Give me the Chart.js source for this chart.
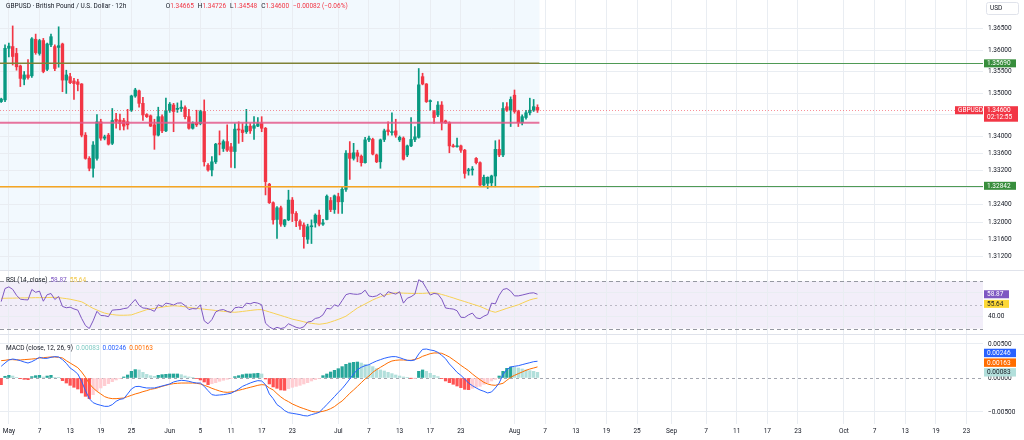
<!DOCTYPE html>
<html lang="en">
<head>
  <meta charset="UTF-8">
  <meta name="viewport" content="width=device-width, initial-scale=1.0">
  <title>GBPUSD 12h</title>
  <script src="https://cdn.jsdelivr.net/npm/chart.js"></script>
  <style>
    html, body { margin: 0; padding: 0; background: #ffffff; }
    #box { position: relative; width: 1024px; height: 440px; }
  </style>
</head>
<body>
  <div id="box"><canvas id="gbpChart"></canvas></div>

  <script>
    // 12h candles, one entry per bar
    const opens = [
      1.3480, 1.3484, 1.3604, 1.3608, 1.3592, 1.3563, 1.3532, 1.3542, 1.3540, 1.3625,
      1.3592, 1.3622, 1.3555, 1.3612, 1.3608, 1.3606, 1.3614, 1.3530, 1.3538, 1.3528,
      1.3526, 1.3521, 1.3402, 1.3348, 1.3325, 1.3348, 1.3433, 1.3395, 1.3402, 1.3383,
      1.3439, 1.3437, 1.3436, 1.3433, 1.3460, 1.3493, 1.3505, 1.3476, 1.3450, 1.3447,
      1.3426, 1.3402, 1.3445, 1.3412, 1.3460, 1.3472, 1.3462, 1.3464, 1.3466, 1.3445,
      1.3418, 1.3431, 1.3429, 1.3457, 1.3332, 1.3321, 1.3340, 1.3383, 1.3371, 1.3387,
      1.3375, 1.3364, 1.3416, 1.3414, 1.3410, 1.3423, 1.3418, 1.3423, 1.3429, 1.3418,
      1.3288, 1.3245, 1.3206, 1.3233, 1.3193, 1.3205, 1.3251, 1.3220, 1.3201, 1.3193,
      1.3160, 1.3189, 1.3198, 1.3216, 1.3195, 1.3206, 1.3250, 1.3229, 1.3259, 1.3247,
      1.3276, 1.3360, 1.3348, 1.3361, 1.3353, 1.3338, 1.3391, 1.3392, 1.3356, 1.3340,
      1.3392, 1.3414, 1.3408, 1.3412, 1.3391, 1.3395, 1.3356, 1.3377, 1.3392, 1.3397,
      1.3538, 1.3521, 1.3480, 1.3457, 1.3449, 1.3472, 1.3435, 1.3431, 1.3377, 1.3375,
      1.3377, 1.3367, 1.3319, 1.3321, 1.3348, 1.3338, 1.3286, 1.3290, 1.3291, 1.3307,
      1.3369, 1.3356, 1.3468, 1.3460, 1.3495, 1.3457, 1.3431, 1.3443, 1.3454, 1.3460, 1.34665
    ];
    const highs = [
      1.3488, 1.3612, 1.3616, 1.3656, 1.3604, 1.3565, 1.3550, 1.3578, 1.3629, 1.3637,
      1.3625, 1.3627, 1.3616, 1.3637, 1.3612, 1.3654, 1.3616, 1.3553, 1.3546, 1.3534,
      1.3532, 1.3522, 1.3408, 1.3352, 1.3387, 1.3450, 1.3439, 1.3402, 1.3406, 1.3464,
      1.3453, 1.3451, 1.3441, 1.3462, 1.3495, 1.3511, 1.3507, 1.3490, 1.3452, 1.3449,
      1.3439, 1.3467, 1.3449, 1.3488, 1.3478, 1.3476, 1.3477, 1.3482, 1.3470, 1.3462,
      1.3433, 1.3460, 1.3460, 1.3484, 1.3336, 1.3352, 1.3383, 1.3412, 1.3391, 1.3426,
      1.3383, 1.3429, 1.3433, 1.3429, 1.3462, 1.3429, 1.3445, 1.3443, 1.3445, 1.3420,
      1.3290, 1.3247, 1.3236, 1.3237, 1.3206, 1.3274, 1.3257, 1.3224, 1.3205, 1.3198,
      1.3195, 1.3205, 1.3219, 1.3228, 1.3206, 1.3263, 1.3257, 1.3263, 1.3267, 1.3282,
      1.3366, 1.3387, 1.3383, 1.3367, 1.3356, 1.3397, 1.3400, 1.3395, 1.3358, 1.3393,
      1.3416, 1.3433, 1.3454, 1.3439, 1.3400, 1.3398, 1.3379, 1.3443, 1.3422, 1.3557,
      1.3546, 1.3522, 1.3484, 1.3460, 1.3480, 1.3480, 1.3437, 1.3433, 1.3381, 1.3395,
      1.3379, 1.3369, 1.3325, 1.3329, 1.3350, 1.3340, 1.3309, 1.3305, 1.3309, 1.3389,
      1.3391, 1.3478, 1.3478, 1.3491, 1.3507, 1.3460, 1.3449, 1.3460, 1.3488, 1.3485, 1.34726
    ];
    const lows = [
      1.3478, 1.3480, 1.3584, 1.3565, 1.3553, 1.3515, 1.3519, 1.3532, 1.3536, 1.3590,
      1.3588, 1.3547, 1.3552, 1.3608, 1.3552, 1.3560, 1.3503, 1.3499, 1.3522, 1.3485,
      1.3505, 1.3398, 1.3346, 1.3319, 1.3304, 1.3344, 1.3390, 1.3391, 1.3379, 1.3380,
      1.3418, 1.3414, 1.3414, 1.3416, 1.3457, 1.3490, 1.3467, 1.3436, 1.3443, 1.3422,
      1.3369, 1.3400, 1.3408, 1.3410, 1.3455, 1.3410, 1.3455, 1.3457, 1.3440, 1.3416,
      1.3416, 1.3422, 1.3426, 1.3330, 1.3318, 1.3307, 1.3336, 1.3356, 1.3364, 1.3364,
      1.3327, 1.3326, 1.3383, 1.3387, 1.3406, 1.3406, 1.3392, 1.3422, 1.3410, 1.3263,
      1.3243, 1.3195, 1.3162, 1.3190, 1.3189, 1.3203, 1.3201, 1.3189, 1.3183, 1.3139,
      1.3150, 1.3150, 1.3188, 1.3191, 1.3192, 1.3205, 1.3224, 1.3220, 1.3220, 1.3220,
      1.3271, 1.3299, 1.3344, 1.3340, 1.3330, 1.3337, 1.3387, 1.3356, 1.3338, 1.3325,
      1.3387, 1.3402, 1.3402, 1.3397, 1.3387, 1.3344, 1.3352, 1.3375, 1.3387, 1.3395,
      1.3519, 1.3478, 1.3460, 1.3429, 1.3445, 1.3414, 1.3429, 1.3361, 1.3374, 1.3374,
      1.3362, 1.3302, 1.3309, 1.3309, 1.3335, 1.3284, 1.3282, 1.3278, 1.3282, 1.3282,
      1.3352, 1.3352, 1.3457, 1.3422, 1.3453, 1.3422, 1.3426, 1.3439, 1.3449, 1.3457, 1.34548
    ];
    const closes = [
      1.3486, 1.3604, 1.3609, 1.3585, 1.3561, 1.3534, 1.3542, 1.3536, 1.3626, 1.3594,
      1.3622, 1.3550, 1.3614, 1.3631, 1.3557, 1.3610, 1.3530, 1.3542, 1.3524, 1.3522,
      1.3520, 1.3402, 1.3348, 1.3325, 1.3379, 1.3433, 1.3395, 1.3398, 1.3381, 1.3436,
      1.3434, 1.3429, 1.3423, 1.3426, 1.3493, 1.3507, 1.3476, 1.3449, 1.3445, 1.3423,
      1.3402, 1.3445, 1.3412, 1.3459, 1.3474, 1.3457, 1.3464, 1.3467, 1.3445, 1.3418,
      1.3429, 1.3426, 1.3457, 1.3340, 1.3321, 1.3340, 1.3381, 1.3381, 1.3387, 1.3367,
      1.3364, 1.3416, 1.3414, 1.3408, 1.3423, 1.3412, 1.3424, 1.3429, 1.3418, 1.3294,
      1.3245, 1.3205, 1.3233, 1.3195, 1.3205, 1.3251, 1.3220, 1.3203, 1.3191, 1.3166,
      1.3189, 1.3191, 1.3216, 1.3195, 1.3198, 1.3260, 1.3229, 1.3261, 1.3247, 1.3276,
      1.3360, 1.3348, 1.3361, 1.3353, 1.3338, 1.3391, 1.3395, 1.3358, 1.3340, 1.3391,
      1.3412, 1.3410, 1.3410, 1.3402, 1.3397, 1.3346, 1.3377, 1.3392, 1.3398, 1.3519,
      1.3521, 1.3480, 1.3481, 1.3443, 1.3472, 1.3431, 1.3431, 1.3377, 1.3375, 1.3377,
      1.3367, 1.3313, 1.3321, 1.3323, 1.3338, 1.3286, 1.3304, 1.3304, 1.3307, 1.3369,
      1.3356, 1.3464, 1.3460, 1.3485, 1.3457, 1.3431, 1.3445, 1.3454, 1.3460, 1.34682, 1.34600
    ];

    // RSI (14, close) and its moving average
    const rsi = [
      52.7, 63.7, 65.1, 63.0, 58.0, 54.7, 54.3, 54.1, 62.9, 60.5,
      61.5, 53.0, 58.5, 59.5, 54.5, 57.0, 48.6, 47.5, 48.0, 46.5,
      45.5, 38.5, 32.5, 30.0, 36.5, 44.5, 41.0, 40.8, 40.0, 45.5,
      45.8, 46.0, 46.8, 47.3, 51.0, 54.5, 49.5, 47.3, 47.0, 46.0,
      44.5, 50.0, 48.5, 51.4, 50.8, 49.8, 51.4, 51.6, 49.3, 46.0,
      46.8, 46.5, 50.0, 36.5, 34.0, 37.5, 44.0, 45.5, 46.0, 44.5,
      43.5, 47.5, 48.0, 47.5, 51.4, 50.8, 52.0, 51.4, 50.0, 34.5,
      31.5, 29.5, 31.0, 30.0, 30.8, 34.0, 32.5, 31.0, 30.2, 31.5,
      35.5, 36.0, 38.5, 39.2, 41.5, 47.0, 46.5, 50.0, 48.7, 53.5,
      58.5, 59.5, 59.0, 58.8, 59.5, 62.3, 57.4, 56.8, 57.5, 59.5,
      56.8, 61.0, 60.0, 59.0, 61.0, 51.4, 55.5, 56.8, 59.0, 71.1,
      69.2, 63.7, 58.2, 59.6, 59.0, 54.7, 47.3, 46.8, 46.4, 45.0,
      39.5, 39.3, 41.5, 43.0, 39.0, 38.3, 40.4, 41.8, 51.4, 50.8,
      58.0, 62.9, 63.7, 61.5, 57.5, 57.5, 58.2, 59.0, 59.8, 60.1, 58.87
    ];
    const rsiMa = [
      55.5, 55.5, 55.6, 55.6, 55.7, 55.8, 55.8, 55.9, 55.9, 56.0,
      56.0, 56.1, 56.1, 56.2, 56.3, 56.0, 55.6, 55.2, 54.7, 54.0,
      53.3, 52.5, 50.8, 48.8, 47.0, 45.6, 44.2, 43.0, 42.3, 41.8,
      41.4, 41.2, 41.2, 41.3, 41.5, 42.6, 43.7, 44.8, 45.9, 46.5,
      47.0, 47.5, 48.0, 48.5, 48.9, 49.2, 49.0, 48.7, 48.3, 47.8,
      47.3, 47.0, 46.6, 46.3, 45.9, 45.6, 45.2, 44.9, 44.5, 44.2,
      43.9, 43.7, 44.0, 44.4, 44.8, 45.2, 45.6, 45.9, 45.9, 45.0,
      44.0, 43.0, 42.0, 41.0, 40.0, 39.0, 37.9, 37.2, 36.5, 35.7,
      34.9, 34.4, 34.0, 33.6, 34.0, 34.5, 35.5, 36.6, 37.7, 39.0,
      40.4, 42.7, 45.0, 47.3, 49.0, 50.7, 52.4, 54.1, 55.5, 56.8,
      58.2, 58.8, 59.5, 60.1, 60.0, 59.8, 59.7, 59.6, 59.6, 59.6,
      59.6, 59.8, 60.0, 60.1, 59.6, 58.7, 57.8, 56.8, 55.8, 54.7,
      53.7, 52.7, 51.7, 50.6, 49.6, 48.6, 47.2, 45.8, 44.5, 43.7,
      44.8, 45.9, 47.0, 48.0, 49.0, 50.0, 51.4, 52.8, 54.1, 55.0, 55.64
    ];

    // MACD (close, 12, 26, 9)
    const macdLine = [
      0.00172, 0.00220, 0.00265, 0.00279, 0.00270, 0.00255, 0.00235, 0.00220, 0.00240, 0.00270,
      0.00304, 0.00289, 0.00289, 0.00304, 0.00314, 0.00309, 0.00270, 0.00216, 0.00147, 0.00108,
      0.00059, -0.00049, -0.00186, -0.00304, -0.00363, -0.00387, -0.00402, -0.00417, -0.00417, -0.00392,
      -0.00343, -0.00314, -0.00304, -0.00235, -0.00162, -0.00127, -0.00123, -0.00137, -0.00147, -0.00147,
      -0.00147, -0.00132, -0.00118, -0.00103, -0.00088, -0.00059, -0.00044, -0.00034, -0.00039, -0.00049,
      -0.00064, -0.00074, -0.00074, -0.00123, -0.00186, -0.00245, -0.00255, -0.00250, -0.00245, -0.00235,
      -0.00225, -0.00196, -0.00162, -0.00123, -0.00098, -0.00074, -0.00054, -0.00039, -0.00044, -0.00098,
      -0.00235, -0.00304, -0.00392, -0.00431, -0.00480, -0.00510, -0.00520, -0.00529, -0.00539, -0.00554,
      -0.00559, -0.00539, -0.00524, -0.00505, -0.00451, -0.00392, -0.00333, -0.00274, -0.00211, -0.00157,
      -0.00088, -0.00015, 0.00059, 0.00123, 0.00157, 0.00181, 0.00196, 0.00225, 0.00250, 0.00270,
      0.00289, 0.00304, 0.00314, 0.00314, 0.00299, 0.00279, 0.00260, 0.00255, 0.00265, 0.00353,
      0.00421, 0.00426, 0.00412, 0.00402, 0.00377, 0.00333, 0.00284, 0.00206, 0.00147, 0.00083,
      0.00039, -0.00015, -0.00074, -0.00113, -0.00147, -0.00176, -0.00196, -0.00220, -0.00206, -0.00147,
      -0.00074, 0.00049, 0.00123, 0.00162, 0.00172, 0.00181, 0.00196, 0.00211, 0.00225, 0.00240, 0.00246
    ];
    const macdSignal = [
      0.00255, 0.00260, 0.00270, 0.00270, 0.00265, 0.00265, 0.00270, 0.00274, 0.00279, 0.00284,
      0.00294, 0.00299, 0.00304, 0.00309, 0.00309, 0.00304, 0.00294, 0.00255, 0.00220, 0.00186,
      0.00152, 0.00088, 0.00010, -0.00083, -0.00147, -0.00196, -0.00235, -0.00274, -0.00294, -0.00304,
      -0.00304, -0.00299, -0.00294, -0.00274, -0.00255, -0.00235, -0.00220, -0.00201, -0.00186, -0.00167,
      -0.00157, -0.00142, -0.00123, -0.00108, -0.00093, -0.00083, -0.00078, -0.00074, -0.00074, -0.00074,
      -0.00074, -0.00078, -0.00088, -0.00108, -0.00127, -0.00152, -0.00172, -0.00191, -0.00206, -0.00211,
      -0.00206, -0.00196, -0.00181, -0.00167, -0.00152, -0.00137, -0.00123, -0.00108, -0.00098, -0.00103,
      -0.00147, -0.00176, -0.00230, -0.00279, -0.00319, -0.00348, -0.00382, -0.00407, -0.00431, -0.00451,
      -0.00470, -0.00490, -0.00500, -0.00500, -0.00490, -0.00475, -0.00451, -0.00421, -0.00377, -0.00338,
      -0.00284, -0.00225, -0.00176, -0.00123, -0.00069, -0.00015, 0.00029, 0.00083, 0.00123, 0.00157,
      0.00191, 0.00225, 0.00250, 0.00260, 0.00265, 0.00265, 0.00260, 0.00260, 0.00274, 0.00289,
      0.00319, 0.00338, 0.00358, 0.00368, 0.00368, 0.00363, 0.00338, 0.00309, 0.00270, 0.00230,
      0.00186, 0.00147, 0.00108, 0.00059, 0.00015, -0.00025, -0.00064, -0.00088, -0.00103, -0.00108,
      -0.00093, -0.00078, -0.00034, 0.00010, 0.00039, 0.00064, 0.00088, 0.00113, 0.00132, 0.00147, 0.00163
    ];
    const macdHist = [
      -0.00098, 0.00025, 0.00039, 0.00029, 0.00010, -0.00010, -0.00020, -0.00025, 0.00020, 0.00034,
      0.00039, 0.00015, 0.00029, 0.00039, 0.00010, 0.00005, -0.00039, -0.00074, -0.00108, -0.00137,
      -0.00162, -0.00220, -0.00270, -0.00304, -0.00245, -0.00186, -0.00147, -0.00113, -0.00083, -0.00054,
      -0.00029, -0.00010, 0.00015, 0.00044, 0.00098, 0.00123, 0.00118, 0.00083, 0.00054, 0.00034,
      0.00025, 0.00039, 0.00049, 0.00054, 0.00059, 0.00059, 0.00059, 0.00049, 0.00029, 0.00015,
      0.00005, -0.00005, -0.00029, -0.00059, -0.00098, -0.00083, -0.00069, -0.00049, -0.00034, -0.00020,
      -0.00005, 0.00020, 0.00034, 0.00049, 0.00059, 0.00059, 0.00064, 0.00069, 0.00059, -0.00015,
      -0.00088, -0.00132, -0.00152, -0.00176, -0.00181, -0.00157, -0.00137, -0.00123, -0.00108, -0.00088,
      -0.00069, -0.00044, -0.00025, -0.00005, 0.00034, 0.00059, 0.00088, 0.00113, 0.00137, 0.00167,
      0.00201, 0.00220, 0.00230, 0.00235, 0.00220, 0.00201, 0.00186, 0.00167, 0.00137, 0.00118,
      0.00103, 0.00083, 0.00064, 0.00044, 0.00029, 0.00015, 0.00010, -0.00003, -0.00002, 0.00098,
      0.00118, 0.00098, 0.00069, 0.00039, 0.00020, -0.00010, -0.00044, -0.00069, -0.00093, -0.00118,
      -0.00142, -0.00167, -0.00172, -0.00152, -0.00137, -0.00123, -0.00093, -0.00069, -0.00044, -0.00020,
      0.00029, 0.00098, 0.00142, 0.00162, 0.00157, 0.00147, 0.00132, 0.00118, 0.00108, 0.00098, 0.00083
    ];

    // time axis: bar index where each date label sits
    const timeTicks = [2, 10, 18, 26, 34, 44, 52, 60, 68, 76, 88, 96, 104, 112, 120,
                       134, 142, 150, 158, 166, 175, 184, 192, 200, 208, 220, 228, 236, 244, 252];
    const timeLabels = ['May', '7', '13', '19', '25', 'Jun', '5', '11', '17', '23', 'Jul', '7', '13', '17', '23',
                        'Aug', '7', '13', '19', '25', 'Sep', '7', '11', '17', '23', 'Oct', '7', '13', '19', '23'];
    const priceTicks = [1.365, 1.36, 1.355, 1.35, 1.345, 1.34, 1.336, 1.332, 1.328, 1.324, 1.32, 1.316, 1.312];
    const rsiTicks = [40, 60];
    const rsiBands = [70, 50, 30];
    const macdTicks = [-0.005, 0, 0.005];

    // drawn levels
    const alertLevels = [1.3569, 1.32842];       // green lines with tags
    const rangeLevels = [1.3569, 1.3431, 1.3282]; // olive / pink / orange lines over the range
    const countdown = '02:12:55';

    const upColor = '#089981';
    const downColor = '#F23645';
    const candleColors = closes.map((c, i) => c >= opens[i] ? upColor : downColor);
    const histColors = macdHist.map((v, i) => {
      const prev = i > 0 ? macdHist[i - 1] : v;
      if (v >= 0) return v >= prev ? '#26A69A' : '#B2DFDB';
      return v <= prev ? '#FF5252' : '#FFCDD2';
    });

    const FONT = '6.5px Roboto';
    const TEXT = '#131722';

    function drawTag(ctx, x, yc, w, h, bg, fg, text) {
      ctx.fillStyle = bg;
      ctx.fillRect(x, yc - h / 2, w, h);
      ctx.fillStyle = fg;
      ctx.textAlign = 'left';
      ctx.textBaseline = 'middle';
      ctx.fillText(text, x + 3, yc + 0.3);
    }

    function drawParts(ctx, x, y, parts) {
      ctx.textAlign = 'left';
      ctx.textBaseline = 'middle';
      parts.forEach(p => {
        ctx.fillStyle = p.c;
        ctx.fillText(p.t, x, y);
        x += ctx.measureText(p.t).width + (p.gap || 0);
      });
    }

    function hLine(ctx, y, x1, x2, color, width, dash) {
      ctx.beginPath();
      ctx.setLineDash(dash || []);
      ctx.strokeStyle = color;
      ctx.lineWidth = width;
      ctx.moveTo(x1, y);
      ctx.lineTo(x2, y);
      ctx.stroke();
      ctx.setLineDash([]);
    }

    // no extra room for edge labels: panes start at the canvas edges
    function noPadding(s) {
      s.paddingLeft = 0;
      s.paddingRight = 0;
      s.paddingTop = 0;
      s.paddingBottom = 0;
    }

    const decor = {
      id: 'decor',
      beforeDraw(chart) {
        const { ctx, chartArea, scales } = chart;
        const xEnd = scales.x.getPixelForValue(closes.length - 0.5);
        ctx.save();
        // shaded range behind the candles
        ctx.fillStyle = 'rgba(33,150,243,0.06)';
        ctx.fillRect(chartArea.left, scales.y.top, xEnd - chartArea.left, scales.y.bottom - scales.y.top);
        // RSI background band 70..30
        const b1 = scales.yR.getPixelForValue(rsiBands[0]);
        const b2 = scales.yR.getPixelForValue(rsiBands[2]);
        ctx.fillStyle = 'rgba(126,87,194,0.1)';
        ctx.fillRect(chartArea.left, b1, chartArea.right - chartArea.left, b2 - b1);
        ctx.restore();
      },
      beforeDatasetsDraw(chart) {
        const { ctx, chartArea, scales, width } = chart;
        ctx.save();
        // RSI band lines
        rsiBands.forEach((v, k) => {
          hLine(ctx, Math.round(scales.yR.getPixelForValue(v)) + 0.5, chartArea.left, chartArea.right,
            k === 1 ? 'rgba(120,123,134,0.45)' : '#9598a1', 1, k === 1 ? [2, 3] : [4, 3]);
        });
        // MACD zero line
        hLine(ctx, Math.round(scales.yM.getPixelForValue(0)) + 0.5, chartArea.left, chartArea.right,
          '#a3a6af', 1, [3, 3]);
        // pane separators
        hLine(ctx, Math.round(scales.y.bottom) + 0.5, 0, width, '#e0e3eb', 1);
        hLine(ctx, Math.round(scales.yR.bottom) + 0.5, 0, width, '#e0e3eb', 1);
        // green alert lines, full width
        alertLevels.forEach(v => {
          hLine(ctx, Math.round(scales.y.getPixelForValue(v)) + 0.5, chartArea.left, chartArea.right, '#4f9a55', 1);
        });
        ctx.restore();
      },
      afterDatasetsDraw(chart) {
        const { ctx, chartArea, scales } = chart;
        const y = scales.y;
        const xEnd = scales.x.getPixelForValue(closes.length - 0.5);
        ctx.save();
        hLine(ctx, y.getPixelForValue(rangeLevels[0]), chartArea.left, xEnd, '#7f8236', 1.5);
        hLine(ctx, y.getPixelForValue(rangeLevels[1]), chartArea.left, xEnd, 'rgba(228,92,140,0.85)', 2);
        hLine(ctx, y.getPixelForValue(rangeLevels[2]), chartArea.left, xEnd, '#F5A623', 1.6);
        // current price dotted line
        const last = closes[closes.length - 1];
        hLine(ctx, Math.round(y.getPixelForValue(last)) + 0.5, chartArea.left, chartArea.right,
          'rgba(242,54,69,0.55)', 1, [1, 2]);
        ctx.restore();
      },
      afterDraw(chart) {
        const { ctx, chartArea, scales } = chart;
        const n = closes.length - 1;
        const ax = chartArea.right + 1;
        ctx.save();
        ctx.font = FONT;

        // price axis tags
        alertLevels.forEach(v => {
          drawTag(ctx, ax, scales.y.getPixelForValue(v), 32, 8, '#388E3C', '#ffffff', v.toFixed(5));
        });
        const yLast = scales.y.getPixelForValue(closes[n]);
        ctx.fillStyle = downColor;
        ctx.fillRect(ax, yLast - 4, 34, 15.5);
        ctx.fillStyle = '#ffffff';
        ctx.textBaseline = 'middle';
        ctx.fillText(closes[n].toFixed(5), ax + 3, yLast + 0.3);
        ctx.fillText(countdown, ax + 3, yLast + 7.5);
        drawTag(ctx, chartArea.right - 28, yLast, 28, 8, downColor, '#ffffff', 'GBPUSD');

        // RSI tags (stacked downward)
        let ry = scales.yR.getPixelForValue(rsi[n]);
        drawTag(ctx, ax, ry, 25, 8, '#7E57C2', '#ffffff', rsi[n].toFixed(2));
        ry = Math.max(scales.yR.getPixelForValue(rsiMa[n]), ry + 9.6);
        drawTag(ctx, ax, ry, 25, 8, '#FDD835', TEXT, rsiMa[n].toFixed(2));

        // MACD tags (stacked upward from the lowest)
        let my = scales.yM.getPixelForValue(macdHist[n]);
        drawTag(ctx, ax, my, 32, 8.4, '#B2DFDB', TEXT, macdHist[n].toFixed(5));
        my = Math.min(scales.yM.getPixelForValue(macdSignal[n]), my - 9.7);
        drawTag(ctx, ax, my, 32, 8.4, '#FF6D00', '#ffffff', macdSignal[n].toFixed(5));
        my = Math.min(scales.yM.getPixelForValue(macdLine[n]), my - 9.7);
        drawTag(ctx, ax, my, 32, 8.4, '#2962FF', '#ffffff', macdLine[n].toFixed(5));

        // currency box
        ctx.fillStyle = '#ffffff';
        ctx.strokeStyle = '#e0e3eb';
        ctx.lineWidth = 1;
        ctx.beginPath();
        ctx.roundRect(986.5, 2.5, 32, 12, 2);
        ctx.fill();
        ctx.stroke();
        drawParts(ctx, 990, 8.7, [{ t: 'USD', c: TEXT }]);

        // legends
        const chg = closes[n] - closes[n - 1];
        const pct = chg / closes[n - 1] * 100;
        const sign = chg < 0 ? '\u2212' : '+';
        const valColor = chg < 0 ? downColor : upColor;
        drawParts(ctx, 6, 6.5, [{ t: 'GBPUSD \u00b7 British Pound / U.S. Dollar \u00b7 12h', c: TEXT }]);
        drawParts(ctx, 165.7, 6.5, [
          { t: 'O', c: TEXT }, { t: opens[n].toFixed(5), c: valColor, gap: 4 },
          { t: 'H', c: TEXT }, { t: highs[n].toFixed(5), c: valColor, gap: 4 },
          { t: 'L', c: TEXT }, { t: lows[n].toFixed(5), c: valColor, gap: 4 },
          { t: 'C', c: TEXT }, { t: closes[n].toFixed(5), c: valColor, gap: 4 },
          { t: sign + Math.abs(chg).toFixed(5) + ' (' + sign + Math.abs(pct).toFixed(2) + '%)', c: valColor }
        ]);
        drawParts(ctx, 6, scales.yR.top + 10, [
          { t: 'RSI (14, close)', c: TEXT, gap: 3 },
          { t: rsi[n].toFixed(2), c: '#7E57C2', gap: 3 },
          { t: rsiMa[n].toFixed(2), c: '#F2C94C' }
        ]);
        drawParts(ctx, 6, scales.yM.top + 14, [
          { t: 'MACD (close, 12, 26, 9)', c: TEXT, gap: 3 },
          { t: macdHist[n].toFixed(5), c: '#80CBC4', gap: 3 },
          { t: macdLine[n].toFixed(5), c: '#2962FF', gap: 3 },
          { t: macdSignal[n].toFixed(5), c: '#FF6D00' }
        ]);
        ctx.restore();
      }
    };

    Chart.defaults.font.family = 'Roboto, sans-serif';
    const GRID = '#e9edf2';
    const axisTicks = { color: TEXT, font: { size: 6.5 }, padding: 5, autoSkip: false };

    const ctx = document.getElementById('gbpChart').getContext('2d');
    const gbpChart = new Chart(ctx, {
      type: 'bar',
      data: {
        datasets: [
          {
            label: 'Body', data: closes.map((c, i) => ({ x: i, y: [opens[i], c] })),
            backgroundColor: candleColors, barThickness: 2.7, minBarLength: 1, grouped: false, yAxisID: 'y'
          },
          {
            label: 'Wick', data: closes.map((c, i) => ({ x: i, y: [lows[i], highs[i]] })),
            backgroundColor: candleColors, barThickness: 1, grouped: false, yAxisID: 'y'
          },
          {
            type: 'line', label: 'RSI', data: rsi.map((v, i) => ({ x: i, y: v })),
            borderColor: '#7E57C2', borderWidth: 1, pointRadius: 0, yAxisID: 'yR'
          },
          {
            type: 'line', label: 'RSI MA', data: rsiMa.map((v, i) => ({ x: i, y: v })),
            borderColor: '#F7D154', borderWidth: 1, pointRadius: 0, yAxisID: 'yR'
          },
          {
            type: 'line', label: 'MACD', data: macdLine.map((v, i) => ({ x: i, y: v })),
            borderColor: '#2962FF', borderWidth: 1, pointRadius: 0, yAxisID: 'yM'
          },
          {
            type: 'line', label: 'Signal', data: macdSignal.map((v, i) => ({ x: i, y: v })),
            borderColor: '#FF6D00', borderWidth: 1, pointRadius: 0, yAxisID: 'yM'
          },
          {
            label: 'Histogram', data: macdHist.map((v, i) => ({ x: i, y: v })),
            backgroundColor: histColors, barThickness: 2.6, grouped: false, yAxisID: 'yM'
          }
        ]
      },
      options: {
        responsive: true,
        maintainAspectRatio: false,
        animation: false,
        events: [],
        layout: { padding: 0 },
        plugins: { legend: { display: false }, tooltip: { enabled: false } },
        scales: {
          x: {
            type: 'linear', position: 'bottom', min: -0.31, max: 256.3, offset: false,
            grid: { color: GRID, tickLength: 4, drawTicks: true, offset: false },
            border: { display: false },
            afterBuildTicks: s => { s.ticks = timeTicks.map(v => ({ value: v })); },
            afterFit: s => { s.height = 20; noPadding(s); },
            ticks: { ...axisTicks, padding: 3, maxRotation: 0, callback: (v, i) => timeLabels[i] }
          },
          y: {
            type: 'linear', position: 'right', stack: 'panes', stackWeight: 270,
            min: 1.30884, max: 1.37163,
            grid: { color: GRID, drawTicks: false },
            border: { display: false },
            afterBuildTicks: s => { s.ticks = priceTicks.map(v => ({ value: v })); },
            afterFit: s => { s.width = 41; noPadding(s); },
            ticks: { ...axisTicks, callback: v => v.toFixed(5) }
          },
          yR: {
            type: 'linear', position: 'right', stack: 'panes', stackWeight: 64,
            min: 25.4, max: 79.3,
            grid: { color: GRID, drawTicks: false },
            border: { display: false },
            afterBuildTicks: s => { s.ticks = rsiTicks.map(v => ({ value: v })); },
            afterFit: s => { s.width = 41; noPadding(s); },
            ticks: { ...axisTicks, callback: v => v === 40 ? v.toFixed(2) : '' }
          },
          yM: {
            type: 'linear', position: 'right', stack: 'panes', stackWeight: 86,
            min: -0.00618, max: 0.00647,
            grid: { color: c => c.tick && c.tick.value === 0 ? 'rgba(0,0,0,0)' : GRID, drawTicks: false },
            border: { display: false },
            afterBuildTicks: s => { s.ticks = macdTicks.map(v => ({ value: v })); },
            afterFit: s => { s.width = 41; noPadding(s); },
            ticks: { ...axisTicks, callback: v => (v < 0 ? '\u2212' : '') + Math.abs(v).toFixed(5) }
          }
        }
      },
      plugins: [decor]
    });
  </script>
</body>
</html>
